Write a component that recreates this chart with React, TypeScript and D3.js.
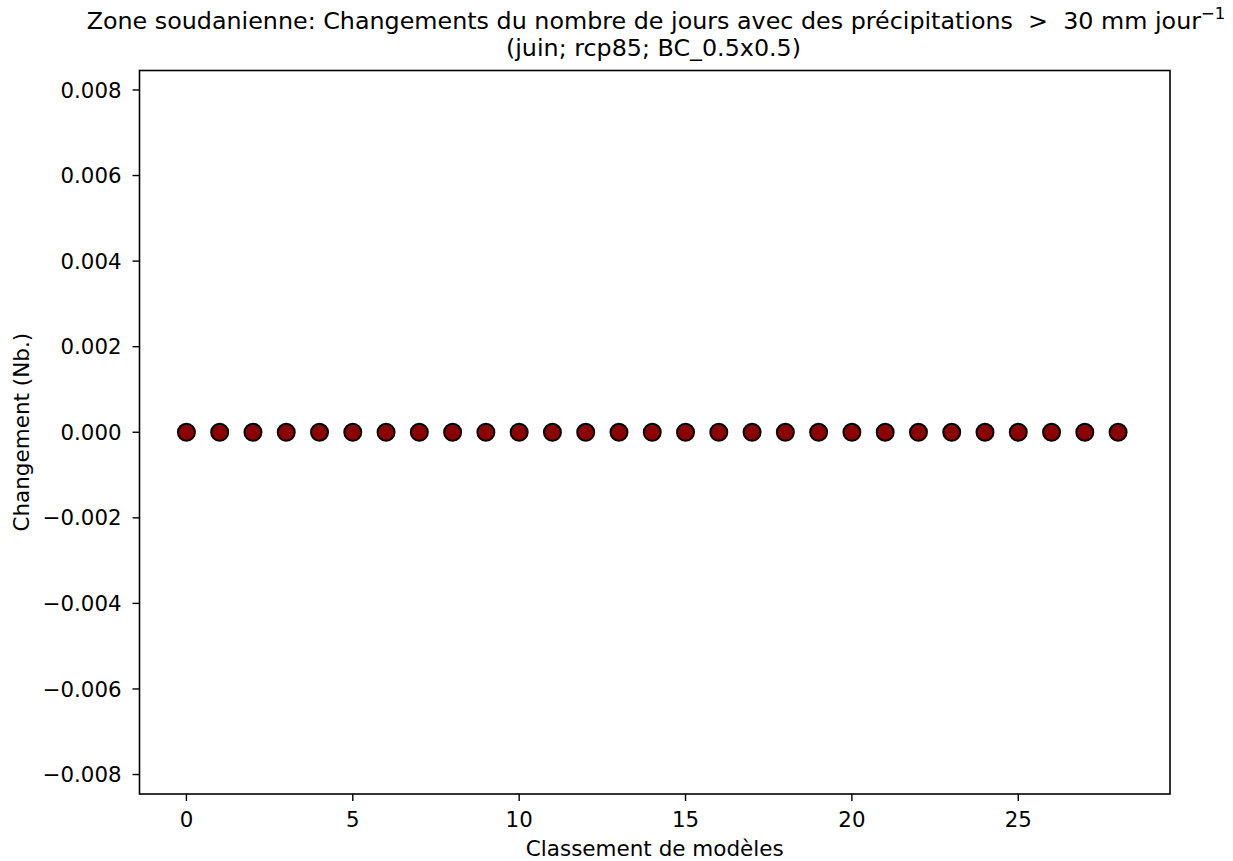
import React from "react";
import * as d3 from "d3";

const modelRanks: number[] = Array.from({ length: 29 }, (_, i) => i);
const changes: number[] = [
  0, 0, 0, 0, 0, 0, 0, 0, 0, 0, 0, 0, 0, 0, 0, 0, 0, 0, 0, 0, 0, 0, 0, 0, 0, 0, 0, 0, 0,
];
const yTicks: number[] = [-0.008, -0.006, -0.004, -0.002, 0, 0.002, 0.004, 0.006, 0.008];
const xTicks: number[] = [0, 5, 10, 15, 20, 25];

const W = 1233;
const H = 861;
const left = 139.5;
const right = 1170;
const top = 70.5;
const bottom = 794;

const font = "'DejaVu Sans', sans-serif";

export default function App() {
  const x = d3.scaleLinear().domain([-1.41, 29.56]).range([left, right]);
  const y = d3.scaleLinear().domain([-0.008455, 0.008455]).range([bottom, top]);
  const fmt = (v: number) => {
    const s = d3.format(".3f")(Math.abs(v));
    return v < 0 ? "\u2212" + s : s;
  };
  return (
    <svg
      width={W}
      height={H}
      style={{ position: "absolute", left: 0, top: 0, background: "#fff" }}
      fontFamily={font}
    >
      <rect x={0} y={0} width={W} height={H} fill="#fff" />
      <text x={656} y={29} fontSize={23.8} textAnchor="middle" fill="#000" xmlSpace="preserve">
        {"Zone soudanienne: Changements du nombre de jours avec des précipitations  >  30 mm jour"}
        <tspan dy={-10} fontSize={16.5}>−1</tspan>
      </text>
      <text x={653.5} y={56} fontSize={23.8} textAnchor="middle" fill="#000">
        (juin; rcp85; BC_0.5x0.5)
      </text>
      {yTicks.map((t) => (
        <g key={"y" + t}>
          <line x1={left - 7} x2={left} y1={y(t)} y2={y(t)} stroke="#000" strokeWidth={1.4} />
          <text x={121.5} y={y(t)} dy="0.36em" fontSize={21.3} textAnchor="end" fill="#000">
            {fmt(t)}
          </text>
        </g>
      ))}
      {xTicks.map((t) => (
        <g key={"x" + t}>
          <line x1={x(t)} x2={x(t)} y1={bottom} y2={bottom + 7} stroke="#000" strokeWidth={1.4} />
          <text x={x(t)} y={826.5} fontSize={21.3} textAnchor="middle" fill="#000">
            {t}
          </text>
        </g>
      ))}
      {modelRanks.map((r, i) => (
        <circle
          key={"p" + r}
          cx={x(r)}
          cy={y(changes[i])}
          r={8.5}
          fill="#8b0000"
          stroke="#000"
          strokeWidth={2}
        />
      ))}
      <rect
        x={left}
        y={top}
        width={right - left}
        height={bottom - top}
        fill="none"
        stroke="#000"
        strokeWidth={1.6}
      />
      <text x={654.75} y={856} fontSize={21.5} textAnchor="middle" fill="#000">
        Classement de modèles
      </text>
      <text
        transform={`translate(28.7, ${(top + bottom) / 2}) rotate(-90)`}
        fontSize={21.5}
        textAnchor="middle"
        fill="#000"
      >
        Changement (Nb.)
      </text>
    </svg>
  );
}
